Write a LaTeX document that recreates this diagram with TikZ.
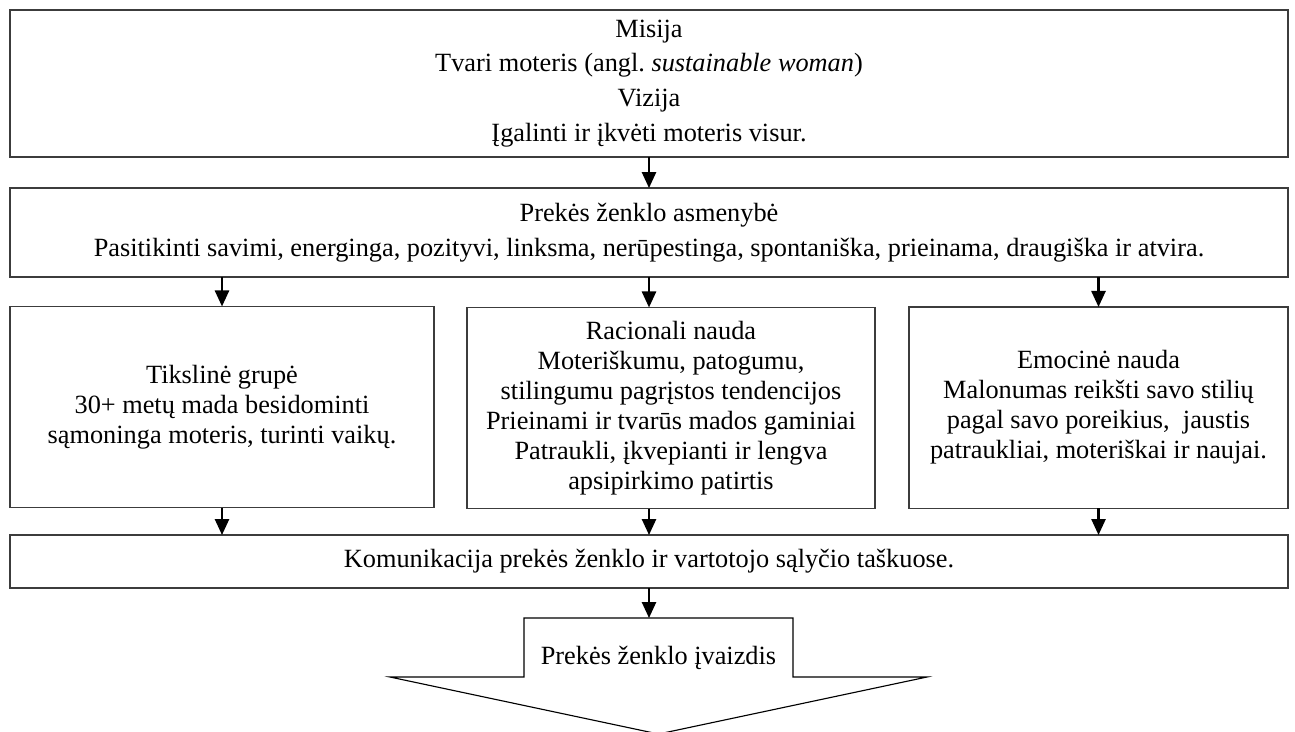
\documentclass[tikz,border=0pt]{standalone}
\usepackage{fontspec}
\setmainfont{Liberation Serif}
\usepackage{xcolor}
\usetikzlibrary{arrows.meta, positioning, calc}
\definecolor{BoxLine}{RGB}{60, 60, 60}

\begin{document}
\begin{tikzpicture}[
  x=0.532pt, y=-0.532pt,
  box/.style={draw=BoxLine, line width=0.6pt, inner sep=0pt, outer sep=0pt,
    align=center, font=\fontsize{14}{16}\selectfont},
  wbox/.style={box, minimum width=679.9pt, font=\fontsize{14}{18.5}\selectfont},
  cbox/.style={box, minimum height=107pt},
  arr/.style={-{Triangle[length=8.5pt, width=7.5pt]}, black, line width=1.2pt},
  outline/.style={draw=black, line width=0.6pt}
]
\useasboundingbox (0,0) rectangle (1295,731);

% Mission and vision
\node[wbox, minimum height=78.2pt] (mis) at (649, 83.5)
  {Misija\\ Tvari moteris (angl.\ \textit{sustainable woman})\\ Vizija\\ Įgalinti ir įkvėti moteris visur.};

% Brand personality
\node[wbox, minimum height=47.3pt] (asm) at (649, 232.5)
  {Prekės ženklo asmenybė\\ Pasitikinti savimi, energinga, pozityvi, linksma, nerūpestinga, spontaniška, prieinama, draugiška ir atvira.};

% Three columns
\node[cbox, minimum width=225.6pt] (tg) at (222, 407)
  {Tikslinė grupė\\ 30+ metų mada besidominti\\ sąmoninga moteris, turinti vaikų.};
\node[cbox, minimum width=217.1pt] (rn) at (671, 408)
  {Racionali nauda\\ Moteriškumu, patogumu,\\ stilingumu pagrįstos tendencijos\\ Prieinami ir tvarūs mados gaminiai\\ Patraukli, įkvepianti ir lengva\\ apsipirkimo patirtis};
\node[cbox, minimum width=201.6pt] (en) at (1098.5, 407.5)
  {Emocinė nauda\\ Malonumas reikšti savo stilių\\ pagal savo poreikius,~ jaustis\\ patraukliai, moteriškai ir naujai.};

% Communication
\node[box, minimum width=679.9pt, minimum height=28.2pt] (kom) at (649, 561.5)
  {Komunikacija prekės ženklo ir vartotojo sąlyčio taškuose.};

% Brand image arrow
\draw[outline] (658.5, 618) coordinate (imgtop) -- (793, 618) -- (793, 677) -- (927, 677)
  -- (658.5, 734) -- (390, 677) -- (524, 677) -- (524, 618) -- cycle;
\node[font=\fontsize{14}{16}\selectfont] (img) at (658.5, 658) {Prekės ženklo įvaizdis};

\draw[arr] (mis.south) -- (asm.north);
\draw[arr] (tg.north |- asm.south) -- (tg.north);
\draw[arr] (asm.south) -- (asm.south |- rn.north);
\draw[arr] (en.north |- asm.south) -- (en.north);
\draw[arr] (tg.south) -- (tg.south |- kom.north);
\draw[arr] (kom.north |- rn.south) -- (kom.north);
\draw[arr] (en.south) -- (en.south |- kom.north);
\draw[arr] (kom.south) -- (kom.south |- imgtop);
\end{tikzpicture}
\end{document}
